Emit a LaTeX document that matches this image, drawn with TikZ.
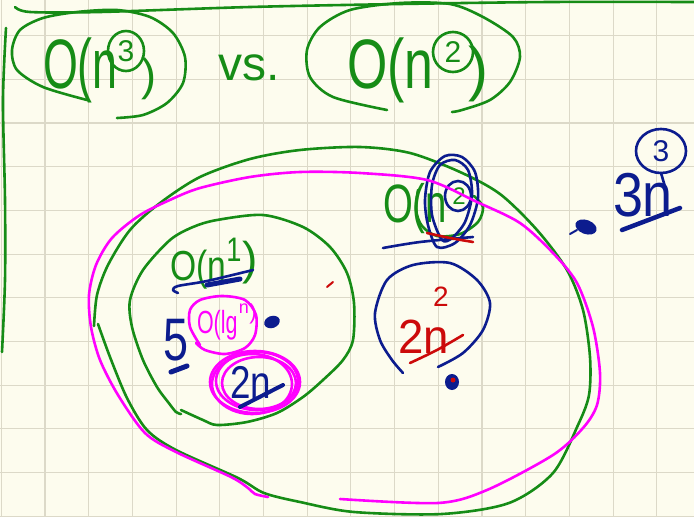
\documentclass[tikz,border=0pt]{standalone}
\usepackage{fontspec}
\setmainfont{Liberation Sans}
\usetikzlibrary{shapes.geometric}
\definecolor{paper}{HTML}{FDFCEE}
\definecolor{gridc}{HTML}{DCD9C8}
\definecolor{pgreen}{HTML}{168C16}
\definecolor{pblue}{HTML}{0C1C8E}
\definecolor{pmag}{HTML}{FF00FF}
\definecolor{pred}{HTML}{CC0A0A}
\newcommand{\fsz}[1]{\fontsize{#1}{#1}\selectfont}
\begin{document}
\begin{tikzpicture}[x=1pt,y=-1pt,
  ink/.style={line width=2.6pt, line cap=round, line join=round},
  gink/.style={ink, draw=pgreen},
  bink/.style={ink, draw=pblue},
  mink/.style={ink, draw=pmag},
  rink/.style={ink, draw=pred},
  hw/.style={inner sep=0pt, outer sep=0pt, anchor=base west},
  hc/.style={inner sep=0pt, outer sep=0pt, anchor=center},
  ring/.style={ellipse, inner sep=0pt, outer sep=0pt, line width=2.6pt}]
% paper and grid
\fill[paper] (0,0) rectangle (694,517);
\useasboundingbox (0,0) rectangle (694,517);
\foreach \k in {0,...,15} {\draw[gridc, line width=1.1pt] ({1.3+43.7*\k},0) -- ({1.3+43.7*\k},517);}
\foreach \k in {0,...,11} {\draw[gridc, line width=1.1pt] (0,{35.6+43.7*\k}) -- (694,{35.6+43.7*\k});}

% frame strokes
\draw[gink] plot[smooth] coordinates {(15,7)(30,12)(100,12)(250,7)(400,4)(550,2)(694,2)};
\draw[gink] plot[smooth] coordinates {(6,28)(3,100)(5,200)(5,280)(2,352)};

% top-left: O(n^3)
\draw[gink] plot[smooth] coordinates {(87,100)(43,87)(17,70)(12,50)(20,30)(43,18)(77,12)(117,10)(150,17)(173,33)(185,57)(183,83)(167,103)(143,115)(117,118)};
\node[hw, text=pgreen, font=\fsz{70}, xscale=0.64] (t1) at (43,88) {O(n};
\node[ring, draw=pgreen, text=pgreen, font=\fsz{30}, minimum width=36, minimum height=40] (t1e) at (126,51) {3};
\node[hc, text=pgreen, font=\fsz{45}] (t1p) at (149,79) {)};

\node[hw, text=pgreen, font=\fsz{48}] (vs) at (218,80) {vs.};

% top-right: O(n^2)
\draw[gink] plot[smooth] coordinates {(387,110)(333,97)(310,77)(307,50)(320,27)(350,10)(400,3)(450,4)(483,17)(513,37)(520,57)(510,82)(490,100)(462,110)(452,112)};
\node[hw, text=pgreen, font=\fsz{70}, xscale=0.74] (t2) at (347,88) {O(n};
\node[ring, draw=pgreen, text=pgreen, font=\fsz{30}, minimum width=40, minimum height=40] (t2e) at (453,52) {2};
\node[hc, text=pgreen, font=\fsz{60}] (t2p) at (478,74) {)};

% big green set
\draw[gink] plot[smooth] coordinates {(94,326)(97,295)(108,265)(130,230)(160,203)(200,177)(250,159)(300,150)(360,147)(410,153)(460,172)(500,194)(537,230)(567,270)(583,310)(590,357)(589,395)(578,425)(553,473)(509,503)(442,514)(354,512)(300,502)(264,493)(238,478)(176,450)(147,430)(127,398)(110,357)(98,324)};

% inner green set O(n)
\draw[gink] plot[smooth] coordinates {(181,410)(203,420)(217,425)(247,422)(277,413)(303,397)(323,380)(343,360)(353,340)(354,303)(347,273)(330,247)(303,227)(263,215)(217,220)(193,227)(170,240)(143,270)(130,300)(132,327)(143,360)(157,387)(168,402)(176,412)(181,414)};

% middle-right O(n^2) with blue loops
\draw[gink] plot[smooth] coordinates {(418,190)(416,210)(422,226)(437,236)(460,234)(478,222)(483,207)(474,196)};
\node[hw, text=pgreen, font=\fsz{54}, xscale=0.71] (t3) at (383,222) {O(n};
\node[hc, text=pgreen, font=\fsz{24}] (t3e) at (459,196) {2};
\draw[bink] plot[smooth cycle] coordinates {(437,247)(428,225)(425,200)(430,172)(445,156)(462,157)(475,172)(478,198)(470,225)(455,243)};
\draw[bink] plot[smooth cycle] coordinates {(442,240)(432,215)(432,185)(440,165)(455,160)(468,170)(472,195)(465,222)(452,238)};
\draw[bink] (458,196) ellipse[x radius=13, y radius=15];
\draw[bink] plot[smooth] coordinates {(383,248)(420,242)(473,237)};
\draw[rink] plot[smooth] coordinates {(427,233)(450,238)(473,242)};

% 2n^2 in blue circle
\draw[bink] plot[smooth] coordinates {(403,373)(392,360)(380,340)(375,313)(387,280)(413,265)(450,263)(477,280)(490,303)(483,330)(463,353)(438,367)};
\node[hw, text=pred, font=\fsz{48}, xscale=0.95] (t4) at (398,353) {2n};
\node[hc, text=pred, font=\fsz{28}] (t4e) at (441,297) {2};
\draw[rink] plot[smooth] coordinates {(410,363)(437,350)(463,335)};
\fill[pblue] (452,382) ellipse[x radius=7, y radius=8];
\fill[pred] (453,380) circle[radius=2.5];
\draw[rink, line width=2pt] (327,287) -- (333,282);

% inner contents
\node[hw, text=pgreen, font=\fsz{42}, xscale=0.8] (t5) at (170,280) {O(n};
\node[hc, text=pgreen, font=\fsz{34}, xscale=0.8] (t5e) at (234,250) {1};
\node[hc, text=pgreen, font=\fsz{46}] (t5p) at (250,263) {)};
\draw[bink] plot[smooth] coordinates {(178,293)(173,290)(178,286)(207,281)(253,270)};
\draw[bink, line width=5pt] (207,285) -- (240,279);

\draw[mink] plot[smooth] coordinates {(200,345)(190,327)(190,310)(200,300)(222,296)(245,300)(256,315)(255,335)(245,348)(225,354)(205,350)(196,343)};
\node[hw, text=pmag, font=\fsz{32}, xscale=0.67] (t6) at (197,333) {O(lg};
\node[hc, text=pmag, font=\fsz{18}] (t6e) at (244,309) {n};
\node[hc, text=pmag, font=\fsz{22}] (t6p) at (253,314) {)};

\node[hw, text=pblue, font=\fsz{60}, xscale=0.75] (t7) at (163,360) {5};
\draw[bink, line width=5pt] (171,372) -- (187,366);
\fill[pblue, rotate around={20:(272,322)}] (272,322) ellipse[x radius=8, y radius=6];

\draw[mink] (255,382) ellipse[x radius=45, y radius=31];
\draw[mink] (257,381) ellipse[x radius=41, y radius=29];
\draw[mink] (259,383) ellipse[x radius=37, y radius=26];
\draw[mink] (252,384) ellipse[x radius=40, y radius=30];
\node[hw, text=pblue, font=\fsz{46}, xscale=0.8] (t8) at (230,398) {2n};
\draw[bink, line width=4pt] (240,407) -- (283,385);

% big magenta set
\draw[mink] plot[smooth] coordinates {(268,497)(255,494)(248,488)(231,477)(176,452)(145,433)(118,395)(100,360)(91,327)(89,295)(96,265)(112,238)(140,215)(172,199)(200,188)(250,177)(300,172)(360,173)(427,180)(477,202)(520,223)(553,253)(577,283)(593,327)(600,373)(597,405)(583,428)(553,455)(487,490)(438,503)(340,499)};

% right side: 3n^3
\fill[pblue, rotate around={-20:(586,227)}] (586,227) ellipse[x radius=11, y radius=7];
\draw[bink, line width=2pt] (577,230) -- (570,234);
\node[hw, text=pblue, font=\fsz{62}, xscale=0.87] (t9) at (613,216) {3n};
\node[ring, draw=pblue, text=pblue, font=\fsz{30}, minimum width=50, minimum height=44] (t9e) at (661,151) {3};
\coordinate (t9s) at (666,190);
\draw[bink] (t9e.south) -- (t9s);
\draw[bink, line width=4.5pt] (622,230) -- (680,208);
\end{tikzpicture}
\end{document}
